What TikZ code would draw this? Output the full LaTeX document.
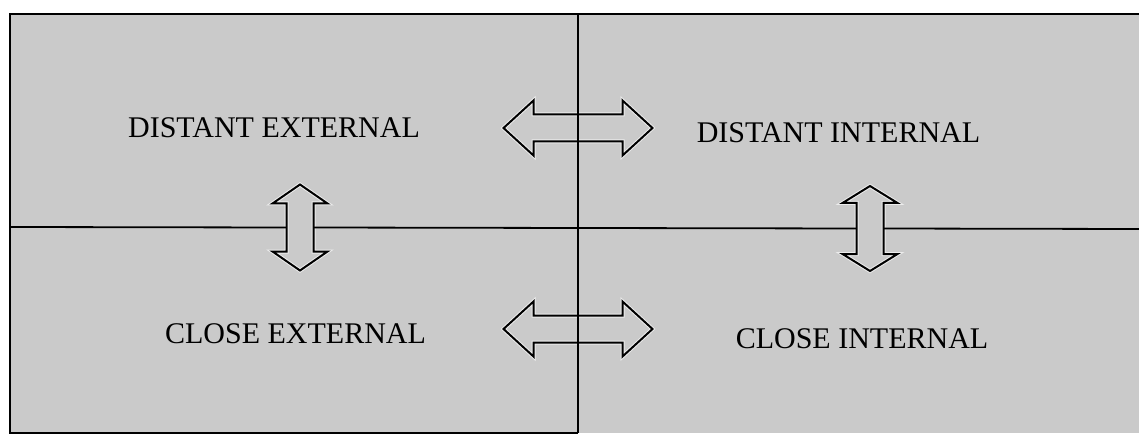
\documentclass[tikz,border=0pt]{standalone}
\usepackage{fontspec}
\setmainfont{Liberation Serif}
\definecolor{panelgray}{RGB}{202,202,202}
\definecolor{halo}{RGB}{236,236,236}
\tikzset{
  frameline/.style={line width=2pt, black},
  divider/.style={line width=1.8pt, black},
  arrowfill/.style={fill=panelgray},
  arrowhalo/.style={draw=halo, line width=4pt, line join=miter},
  arrowline/.style={draw=black, line width=2pt, line join=miter},
  lbl/.style={font=\fontsize{30}{30}\selectfont, anchor=base, inner sep=0pt}
}
\newcommand\ArrowOutline[2]{%
  (-#1,0) -- ({-#1+#2},27.5) -- ({-#1+#2},13.5) -- ({#1-#2},13.5) -- ({#1-#2},27.5)
  -- (#1,0) -- ({#1-#2},-27.5) -- ({#1-#2},-13.5) -- ({-#1+#2},-13.5) -- ({-#1+#2},-27.5)
  -- cycle}
% #1 name, #2 center x, #3 center y, #4 half length, #5 head length, #6 rotation
\newcommand\DblArrow[6]{%
  \begin{scope}[shift={(#2,#3)}, rotate=#6]
    \fill[arrowfill] \ArrowOutline{#4}{#5};
    \draw[arrowhalo] \ArrowOutline{#4}{#5};
    \draw[arrowline] \ArrowOutline{#4}{#5};
    \coordinate (#1-a) at (-#4,0);
    \coordinate (#1-b) at (#4,0);
    \coordinate (#1-s1) at (0,13.5);
    \coordinate (#1-s2) at (0,-13.5);
  \end{scope}}
\begin{document}
\begin{tikzpicture}[x=1pt, y=-1pt]
  \useasboundingbox (0,0) rectangle (1139,438);
  \fill[white] (0,0) rectangle (1139,438);
  \fill[panelgray] (10,14) rectangle (1139,433);
  \coordinate (tl) at (10,14);
  \coordinate (tr) at (1139,14);
  \coordinate (bl) at (10,433);
  \coordinate (bm) at (578,433);
  \draw[frameline] (tr) -- (tl) -- (bl) -- (bm);
  \coordinate (vt) at (578,14);
  \coordinate (vb) at (578,433);
  \coordinate (hl) at (10,227);
  \coordinate (hr) at (1139,229);
  \DblArrow{top}{578}{128}{74.5}{30}{0}
  \DblArrow{bot}{578}{329}{74.5}{30}{0}
  \DblArrow{lft}{300}{227.5}{43}{19}{90}
  \DblArrow{rgt}{870}{228.5}{42.5}{17}{90}
  % dividers, interrupted by the arrows
  \draw[divider] (vt) -- (top-s1);
  \draw[divider] (top-s2) -- (bot-s1);
  \draw[divider] (bot-s2) -- (vb);
  \draw[divider] (hl) -- (lft-s2);
  \draw[divider] (lft-s1) -- (rgt-s2);
  \draw[divider] (rgt-s1) -- (hr);
  \node[lbl] (de) at (274,138) {DISTANT EXTERNAL};
  \node[lbl] (di) at (838.5,143) {DISTANT INTERNAL};
  \node[lbl] (ce) at (295.5,343) {CLOSE EXTERNAL};
  \node[lbl] (ci) at (862,348) {CLOSE INTERNAL};
\end{tikzpicture}
\end{document}
